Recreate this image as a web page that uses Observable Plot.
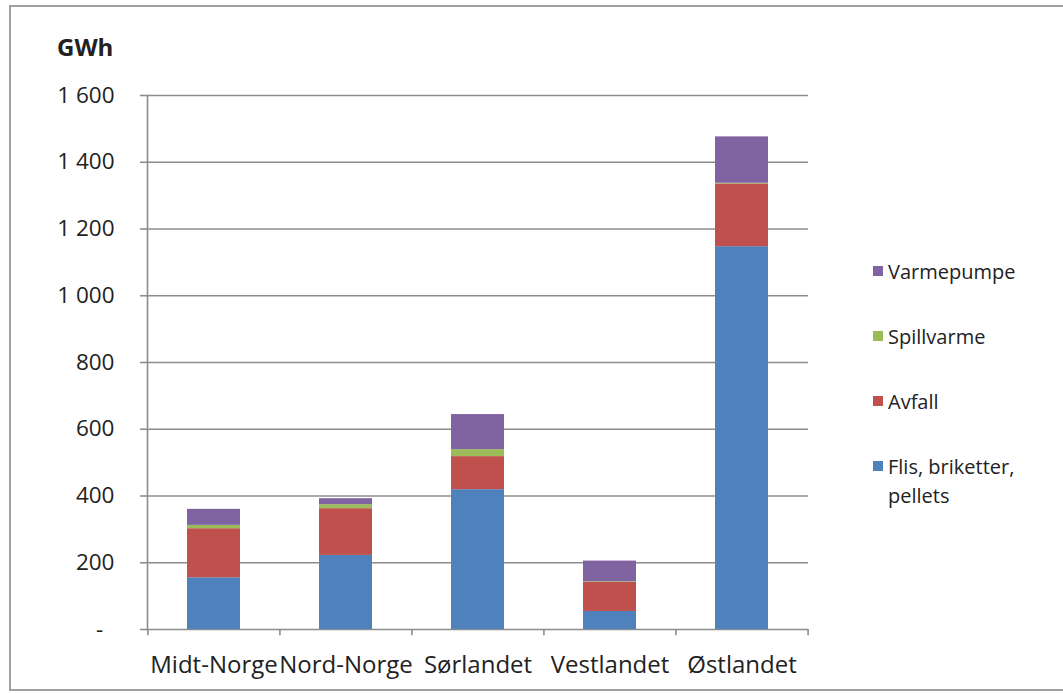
<!DOCTYPE html>
<html>
<head>
<meta charset="utf-8">
<script src="https://cdn.jsdelivr.net/npm/d3@7"></script>
<script src="https://cdn.jsdelivr.net/npm/@observablehq/plot@0.6"></script>
<style>
  html, body { margin: 0; padding: 0; background: #fff; }
  #wrap { position: relative; width: 1063px; height: 693px; overflow: hidden; font-family: "Open Sans", sans-serif; color: #222; }
  #frame { position: absolute; left: 9px; top: 5px; width: 1070px; height: 686px; border: 2px solid #a0a0a0; border-right: none; box-sizing: border-box; }
  #unit { position: absolute; left: 57px; top: 35px; font-weight: bold; font-size: 24px; line-height: 24px; }
  #legend { position: absolute; left: 873px; top: 257px; font-size: 20px; }
  .item { position: relative; padding-left: 15px; line-height: 29px; }
  .sw { position: absolute; left: 0; top: 9px; width: 10px; height: 10px; }
  #chart { position: absolute; left: 0; top: 0; }
</style>
</head>
<body>
<div id="wrap">
  <div id="frame"></div>
  <div id="chart"></div>
  <div id="unit">GWh</div>
  <div id="legend"></div>
</div>
<script>
const regions = ["Midt-Norge", "Nord-Norge", "Sørlandet", "Vestlandet", "Østlandet"];
const seriesNames = ["Flis, briketter, pellets", "Avfall", "Spillvarme", "Varmepumpe"];
const flis = [155, 222, 419, 54, 1147];
const avfall = [147, 140, 99, 87, 188];
const spillvarme = [10, 12, 21, 2, 2];
const varmepumpe = [48, 18, 105, 62, 139];
const colors = ["#4f81bd", "#c0504d", "#9bbb59", "#8064a2"];
const yTicks = [0, 200, 400, 600, 800, 1000, 1200, 1400, 1600];

const seriesValues = [flis, avfall, spillvarme, varmepumpe];
const rows = [];
seriesNames.forEach((s, si) => regions.forEach((r, ri) => rows.push({region: r, series: s, value: seriesValues[si][ri]})));

const W = 1063, H = 693, mL = 147, mR = 255, mT = 95, mB = 64;
const step = (W - mL - mR) / regions.length;
const gridColor = "#8c8c8c";

const fmt = d => d === 0 ? "-\u2002" : d3.format(",")(d).replace(",", " ");

const chart = Plot.plot({
  width: W, height: H,
  marginLeft: mL, marginRight: mR, marginTop: mT, marginBottom: mB,
  style: {fontFamily: "Open Sans, sans-serif", fontSize: "22px", color: "#222", background: "transparent"},
  x: {domain: regions, paddingInner: 0.6, paddingOuter: 0.3, label: null},
  y: {domain: [0, 1600], label: null},
  color: {domain: seriesNames, range: colors},
  marks: [
    Plot.ruleY(yTicks, {stroke: gridColor, strokeWidth: 1.6}),
    Plot.barY(rows, {x: "region", y: "value", fill: "series", order: seriesNames}),
    Plot.axisY({ticks: yTicks, tickFormat: fmt, tickSize: 7, tickPadding: 26, stroke: gridColor, strokeWidth: 1.6, fontSize: 22.5}),
    Plot.frame({anchor: "left", stroke: gridColor, strokeWidth: 1.6}),
    Plot.ruleX(regions, {x: d => d, dx: -step / 2, y1: 0, y2: -19, stroke: gridColor, strokeWidth: 1.6}),
    Plot.ruleX([regions[regions.length - 1]], {x: d => d, dx: step / 2, y1: 0, y2: -19, stroke: gridColor, strokeWidth: 1.6}),
    Plot.axisX({tickSize: 0, tickPadding: 26, fontSize: 24})
  ]
});
document.getElementById("chart").appendChild(chart);

const legend = document.getElementById("legend");
const legendOrder = [3, 2, 1, 0];
const labelsHtml = ["Varmepumpe", "Spillvarme", "Avfall", "Flis, briketter,<br>pellets"];
legendOrder.forEach((si, i) => {
  const d = document.createElement("div");
  d.className = "item";
  d.style.marginBottom = i < 3 ? "36px" : "0";
  d.innerHTML = `<span class="sw" style="background:${colors[si]}"></span>${labelsHtml[i]}`;
  legend.appendChild(d);
});
</script>
</body>
</html>
